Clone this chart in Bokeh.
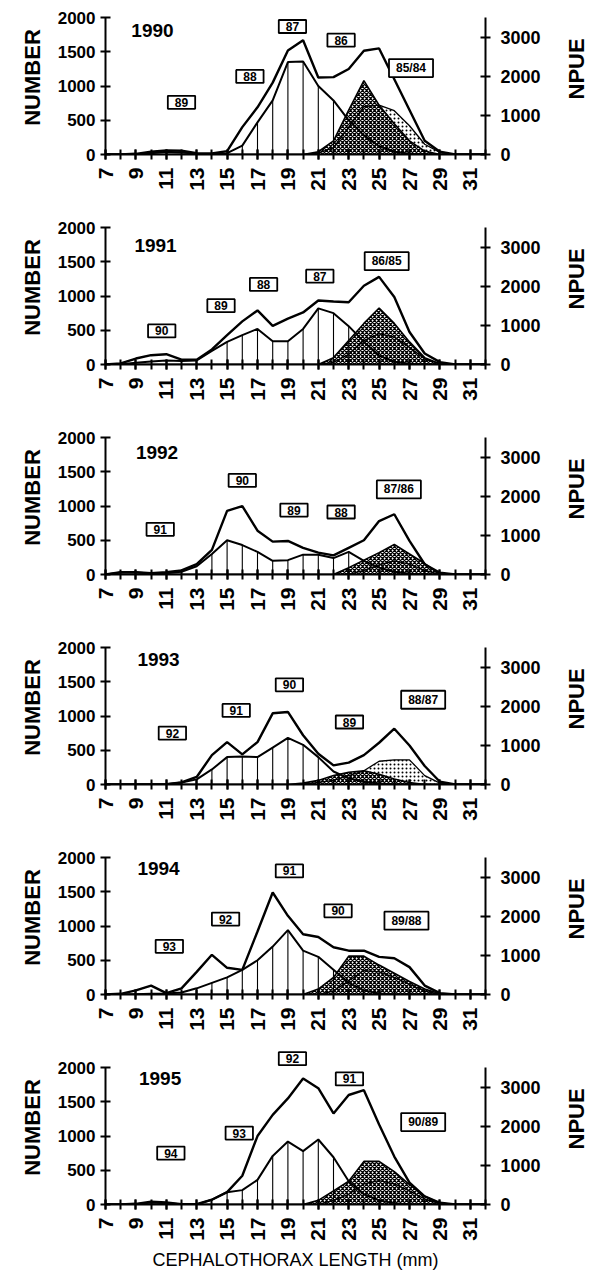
import math
from bokeh.plotting import figure
from bokeh.models import Range1d, LinearAxis, FixedTicker, Label
from bokeh.layouts import column, row
from bokeh.embed import file_html
from bokeh.resources import INLINE

lengths = list(range(7, 33))  # cephalothorax length classes (mm)
x_labels = list(range(7, 32, 2))
number_ticks = [0, 500, 1000, 1500, 2000]
npue_ticks = [0, 1000, 2000, 3000]
years = ["1990", "1991", "1992", "1993", "1994", "1995"]

# upper curve (total)
npue_1990 = [0, 0, 10, 40, 60, 55, 20, 15, 50, 400, 690, 1050, 1520, 1670, 1125, 1130, 1250, 1515, 1550, 1100, 650, 200, 40, 0, 0, 0]
npue_1991 = [0, 15, 87, 136, 150, 70, 70, 220, 430, 630, 790, 565, 670, 760, 935, 920, 910, 1150, 1280, 985, 475, 160, 35, 0, 0, 0]
npue_1992 = [0, 35, 35, 20, 35, 60, 150, 360, 930, 1000, 640, 480, 490, 390, 320, 280, 390, 500, 780, 880, 490, 150, 25, 0, 0, 0]
npue_1993 = [0, 0, 0, 0, 5, 30, 110, 430, 620, 440, 620, 1040, 1060, 720, 450, 280, 320, 430, 610, 815, 570, 270, 40, 0, 0, 0]
npue_1994 = [0, 10, 60, 130, 20, 90, 330, 580, 390, 360, 920, 1490, 1150, 880, 840, 690, 640, 640, 550, 530, 400, 130, 20, 0, 0, 0]
npue_1995 = [0, 0, 10, 40, 30, 5, 5, 70, 180, 420, 1000, 1310, 1550, 1840, 1700, 1330, 1600, 1670, 1170, 700, 320, 120, 25, 0, 0, 0]

# lower curve (number) with drop lines
number_1990 = [0, 0, 5, 20, 40, 30, 10, 5, 20, 130, 470, 790, 1350, 1360, 1000, 790, 500, 280, 120, 40, 10, 0, 0, 0, 0, 0]
number_1991 = [0, 5, 25, 45, 60, 50, 60, 200, 330, 430, 520, 340, 340, 520, 820, 750, 560, 330, 130, 40, 10, 0, 0, 0, 0, 0]
number_1992 = [0, 30, 30, 15, 20, 40, 120, 300, 500, 430, 330, 200, 210, 290, 290, 240, 330, 200, 100, 40, 10, 0, 0, 0, 0, 0]
number_1993 = [0, 0, 0, 0, 5, 30, 75, 220, 400, 410, 400, 540, 680, 580, 400, 190, 90, 40, 15, 0, 0, 0, 0, 0, 0, 0]
number_1994 = [0, 0, 5, 10, 15, 30, 90, 170, 250, 360, 500, 700, 940, 640, 550, 360, 170, 60, 15, 0, 0, 0, 0, 0, 0, 0]
number_1995 = [0, 0, 5, 30, 20, 5, 0, 70, 180, 210, 360, 710, 920, 780, 950, 690, 340, 150, 60, 20, 0, 0, 0, 0, 0, 0]

# old cohorts (cross-hatched)
cross_1990 = [0, 0, 0, 0, 0, 0, 0, 0, 0, 0, 0, 0, 0, 0, 40, 200, 650, 1080, 720, 450, 200, 50, 0, 0, 0, 0]
cross_1991 = [0, 0, 0, 0, 0, 0, 0, 0, 0, 0, 0, 0, 0, 0, 0, 100, 350, 600, 825, 600, 330, 100, 10, 0, 0, 0]
cross_1992 = [0, 0, 0, 0, 0, 0, 0, 0, 0, 0, 0, 0, 0, 0, 0, 0, 100, 210, 320, 440, 300, 160, 0, 0, 0, 0]
cross_1993 = [0, 0, 0, 0, 0, 0, 0, 0, 0, 0, 0, 0, 0, 20, 60, 130, 180, 200, 150, 80, 30, 0, 0, 0, 0, 0]
cross_1994 = [0, 0, 0, 0, 0, 0, 0, 0, 0, 0, 0, 0, 0, 0, 80, 250, 560, 560, 430, 310, 190, 80, 10, 0, 0, 0]
cross_1995 = [0, 0, 0, 0, 0, 0, 0, 0, 0, 0, 0, 0, 0, 0, 60, 200, 340, 630, 630, 480, 290, 120, 20, 0, 0, 0]

# oldest cohorts (stippled)
stip_1990 = [0, 0, 0, 0, 0, 0, 0, 0, 0, 0, 0, 0, 0, 0, 20, 100, 400, 700, 720, 640, 420, 150, 30, 0, 0, 0]
stip_1991 = [0, 0, 0, 0, 0, 0, 0, 0, 0, 0, 0, 0, 0, 0, 0, 30, 150, 350, 450, 400, 250, 80, 10, 0, 0, 0]
stip_1992 = [0, 0, 0, 0, 0, 0, 0, 0, 0, 0, 0, 0, 0, 0, 0, 0, 0, 60, 140, 200, 150, 60, 0, 0, 0, 0]
stip_1993 = [0, 0, 0, 0, 0, 0, 0, 0, 0, 0, 0, 0, 0, 0, 30, 60, 130, 200, 340, 360, 360, 130, 20, 0, 0, 0]
stip_1994 = [0, 0, 0, 0, 0, 0, 0, 0, 0, 0, 0, 0, 0, 0, 0, 50, 200, 350, 330, 250, 150, 50, 0, 0, 0, 0]
stip_1995 = [0, 0, 0, 0, 0, 0, 0, 0, 0, 0, 0, 0, 0, 0, 0, 60, 150, 300, 350, 300, 200, 80, 10, 0, 0, 0]

drop_first = [16, 15, 14, 14, 13, 15]
drop_last = [22, 23, 23, 21, 22, 22]

cohort_labels = [
    ["89", "88", "87", "86", "85/84"],
    ["90", "89", "88", "87", "86/85"],
    ["91", "90", "89", "88", "87/86"],
    ["92", "91", "90", "89", "88/87"],
    ["93", "92", "91", "90", "89/88"],
    ["94", "93", "92", "91", "90/89"],
]
# label box positions (x in mm, y in NUMBER units)
label_pos = [
    [(12.0, 762), (16.5, 1140), (19.3, 1870), (22.5, 1670), (27.1, 1262)],
    [(10.7, 490), (14.6, 859), (17.4, 1170), (21.1, 1291), (25.5, 1510)],
    [(10.6, 660), (16.0, 1374), (19.4, 942), (22.5, 913), (26.3, 1243)],
    [(11.4, 752), (15.6, 1082), (19.1, 1456), (23.05, 913), (27.9, 1238)],
    [(11.2, 704), (14.9, 1102), (19.1, 1806), (22.3, 1223), (26.8, 1078)],
    [(11.3, 752), (15.8, 1044), (19.3, 2130), (23.05, 1835), (27.9, 1204)],
]
year_pos = [(8.7, 1810), (8.9, 1740), (9.0, 1780), (9.1, 1820), (9.1, 1840), (9.2, 1835)]
npue_title_y = 1250

npue_all = [npue_1990, npue_1991, npue_1992, npue_1993, npue_1994, npue_1995]
number_all = [number_1990, number_1991, number_1992, number_1993, number_1994, number_1995]
cross_all = [cross_1990, cross_1991, cross_1992, cross_1993, cross_1994, cross_1995]
stip_all = [stip_1990, stip_1991, stip_1992, stip_1993, stip_1994, stip_1995]

FONT = "Liberation Sans"
Y_TOP = 2250          # frame extends a little above the 2000 axis end
NPUE_MAX = 3520       # right axis value at the 2000 level
NPUE_TOP = NPUE_MAX * Y_TOP / 2000.0


def style_axis(ax, size="17px"):
    ax.axis_line_width = 2
    ax.major_tick_line_width = 2
    ax.major_tick_in = 5
    ax.major_tick_out = 5
    ax.major_label_text_font = FONT
    ax.major_label_text_font_style = "bold"
    ax.major_label_text_font_size = size
    ax.major_label_text_color = "black"
    ax.axis_label_text_font = FONT
    ax.axis_label_text_font_style = "bold"
    ax.axis_label_text_font_size = "22px"
    ax.axis_label_text_color = "black"


rows = []
for i, yr in enumerate(years):
    last = i == len(years) - 1
    h = 224 if last else 210
    bb = 70 if last else 56
    p = figure(width=560, height=h,
               x_range=Range1d(7, 32), y_range=Range1d(0, Y_TOP),
               output_backend="svg", toolbar_location=None,
               min_border_left=105, min_border_right=75, min_border_top=0,
               min_border_bottom=bb,
               x_axis_location=None, y_axis_location=None)
    p.extra_y_ranges = {"npue": Range1d(0, NPUE_TOP)}
    p.outline_line_color = None
    p.xgrid.visible = False
    p.ygrid.visible = False

    # stippled and cross-hatched old cohorts
    p.varea(x=lengths, y1=[0] * len(lengths), y2=stip_all[i], fill_alpha=0,
            hatch_pattern="dot", hatch_color="black", hatch_scale=4, hatch_weight=1.4)
    p.line(lengths, stip_all[i], color="black", line_width=1.3)
    p.varea(x=lengths, y1=[0] * len(lengths), y2=cross_all[i], fill_alpha=0,
            hatch_pattern="diagonal_cross", hatch_color="black", hatch_scale=4, hatch_weight=1.3)
    p.line(lengths, cross_all[i], color="black", line_width=1.6)

    # number curve with drop lines
    dx = [x for x in lengths if drop_first[i] <= x <= drop_last[i]]
    dy = [number_all[i][lengths.index(x)] for x in dx]
    p.segment(x0=dx, y0=[0] * len(dx), x1=dx, y1=dy, color="black", line_width=1.1)
    p.line(lengths, number_all[i], color="black", line_width=2)

    # total curve
    p.line(lengths, npue_all[i], color="black", line_width=2.4)

    # axes
    xa = LinearAxis(ticker=FixedTicker(ticks=x_labels, minor_ticks=lengths))
    style_axis(xa, "21px")
    xa.minor_tick_line_width = 2
    xa.minor_tick_in = 5
    xa.minor_tick_out = 5
    xa.minor_tick_line_color = "black"
    xa.major_label_orientation = math.pi / 2
    xa.major_label_standoff = 8
    if last:
        xa.axis_label = "CEPHALOTHORAX LENGTH (mm)"
        xa.axis_label_text_font_style = "normal"
        xa.axis_label_text_font_size = "18px"
        xa.axis_label_standoff = 6
    p.add_layout(xa, "below")

    ya = LinearAxis(ticker=FixedTicker(ticks=number_ticks), axis_label="NUMBER",
                    bounds=(0, 2000))
    style_axis(ya)
    ya.axis_label_standoff = 10
    p.add_layout(ya, "left")

    ra = LinearAxis(y_range_name="npue", ticker=FixedTicker(ticks=npue_ticks),
                    bounds=(0, NPUE_MAX))
    style_axis(ra, "18px")
    ra.major_label_standoff = 10
    p.add_layout(ra, "right")

    # year label
    p.add_layout(Label(x=year_pos[i][0], y=year_pos[i][1], text=yr,
                       text_font=FONT, text_font_style="bold", text_font_size="19px",
                       text_align="left", text_baseline="middle", text_color="black"))
    # cohort labels
    for txt, (lx, ly) in zip(cohort_labels[i], label_pos[i]):
        p.add_layout(Label(x=lx, y=ly, text=txt, text_font=FONT, text_font_style="bold",
                           text_font_size="12px", text_align="center", text_baseline="middle",
                           text_color="black", border_line_color="black", border_line_width=1.8,
                           background_fill_color="white", padding=(7, 2)))

    # narrow side strip carrying the right-axis title (reads bottom-to-top)
    s = figure(width=32, height=h, x_range=Range1d(0, 1), y_range=Range1d(0, Y_TOP),
               output_backend="svg", toolbar_location=None,
               min_border_left=0, min_border_right=0, min_border_top=0, min_border_bottom=bb,
               x_axis_location=None, y_axis_location=None)
    s.outline_line_color = None
    s.xgrid.visible = False
    s.ygrid.visible = False
    s.add_layout(Label(x=0.5, y=npue_title_y, text="NPUE", angle=math.pi / 2,
                       text_font=FONT, text_font_style="bold", text_font_size="22px",
                       text_align="center", text_baseline="middle", text_color="black"))
    rows.append(row(p, s, spacing=0))

layout = column(*rows, spacing=0)
open("out.html", "w").write(file_html(layout, INLINE))
